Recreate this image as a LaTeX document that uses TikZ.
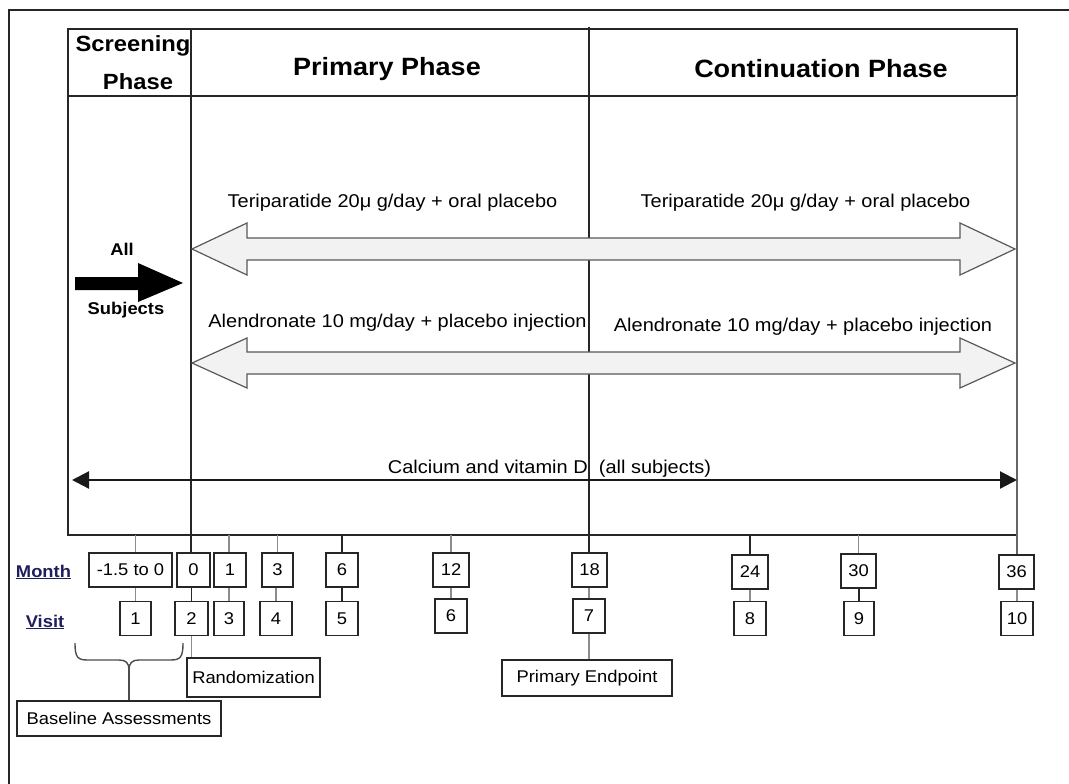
\documentclass[tikz,border=0pt]{standalone}
\usepackage{fontspec}
\setmainfont{Liberation Sans}[FakeStretch=1.08]
\usetikzlibrary{arrows.meta,calc}
\definecolor{navy}{rgb}{0.12,0.12,0.36}
\definecolor{lnk}{gray}{0.15}
\definecolor{lgr}{gray}{0.55}
\tikzset{
  frameline/.style={line width=1.5pt, draw=lnk},
  tbl/.style={line width=1.8pt, draw=lnk},
  hdr/.style={font=\bfseries\fontsize{25}{27}\selectfont, inner sep=0pt},
  hdrs/.style={font=\bfseries\fontsize{22}{24}\selectfont, inner sep=0pt},
  txt/.style={font=\fontsize{18.5}{21}\selectfont, inner sep=0pt},
  btxt/.style={font=\bfseries\fontsize{17}{19}\selectfont, inner sep=0pt},
  nlab/.style={font=\bfseries\fontsize{17}{19}\selectfont, inner sep=0pt, text=navy},
  numbox/.style={draw=lnk, line width=1.8pt, minimum height=34pt, inner sep=0pt, font=\fontsize{17}{19}\selectfont},
  notebox/.style={draw=lnk, line width=1.8pt, inner sep=0pt, font=\fontsize{17}{19}\selectfont},
  hollow/.style={draw=black!65, line width=1.2pt, fill=black!5},
  conn/.style={line width=1.4pt, draw=lnk},
  gconn/.style={line width=1.4pt, draw=lgr},
  bracestyle/.style={draw=black!70, line width=1.4pt},
}
\begin{document}
\begin{tikzpicture}[x=1pt,y=-1pt]
\useasboundingbox (0,0) rectangle (1069,784);

% outer frame
\coordinate (fbl) at (9,784);
\coordinate (ftl) at (9,10);
\coordinate (ftr) at (1069,10);
\draw[frameline] (fbl) -- (ftl) -- (ftr);

% table
\coordinate (ttl) at (68,29);
\coordinate (tbr) at (1017,535);
\coordinate (tb) at (0,535);
\draw[tbl] (ttl) rectangle (tbr);
\coordinate (hl) at (68,96);
\coordinate (hr) at (1017,96);
\draw[tbl] (hl) -- (hr);

% headers
\node[hdrs] (scr1) at (133,46) {Screening};
\node[hdrs] (scr2) at (138,82) {Phase};
\node[hdr] (pp) at (387,69) {Primary Phase};
\node[hdr] (cp) at (821,69) {Continuation Phase};

% month boxes
\node[numbox, minimum width=83pt] (mA) at (130.5,570) {-1.5 to 0};
\node[numbox, minimum width=33pt] (m0) at (193.5,570) {0};
\node[numbox, minimum width=32pt] (m1) at (230,570) {1};
\node[numbox, minimum width=31pt] (m3) at (277.5,570) {3};
\node[numbox, minimum width=32pt] (m6) at (342,570) {6};
\node[numbox, minimum width=36pt] (m12) at (451,570) {12};
\node[numbox, minimum width=35pt] (m18) at (589.5,570) {18};
\node[numbox, minimum width=36pt] (m24) at (750,572) {24};
\node[numbox, minimum width=35pt] (m30) at (858.5,571) {30};
\node[numbox, minimum width=35pt] (m36) at (1016.5,572) {36};

% visit boxes
\node[numbox, minimum width=31pt] (v1) at (135.5,618.5) {1};
\node[numbox, minimum width=33pt] (v2) at (191.5,618.5) {2};
\node[numbox, minimum width=30pt] (v3) at (229,618.5) {3};
\node[numbox, minimum width=32pt] (v4) at (276,618.5) {4};
\node[numbox, minimum width=32pt] (v5) at (342,618.5) {5};
\node[numbox, minimum width=32pt] (v6) at (451,616) {6};
\node[numbox, minimum width=32pt] (v7) at (589,616) {7};
\node[numbox, minimum width=32pt] (v8) at (750,618.5) {8};
\node[numbox, minimum width=30pt] (v9) at (859,618.5) {9};
\node[numbox, minimum width=32pt] (v10) at (1017,618.5) {10};

% phase dividers
\coordinate (d1) at (191,29);
\coordinate (d2) at (589,27);
\coordinate (d3) at (1017,96);
\draw[tbl] (d1) -- (d1 |- m0.north);
\draw[tbl] (d2) -- (d2 |- m18.north);
\draw[tbl, draw=black!60] (d3) -- (d3 |- m36.north);

% ticks from table bottom
\draw[gconn] (v1 |- tb) -- (v1 |- mA.north);
\draw[gconn] (v3 |- tb) -- (v3 |- m1.north);
\draw[gconn] (m3 |- tb) -- (m3.north);
\draw[conn] (m6 |- tb) -- (m6.north);
\draw[gconn] (m12 |- tb) -- (m12.north);
\draw[conn] (v8 |- tb) -- (v8 |- m24.north);
\draw[gconn] (m30 |- tb) -- (m30.north);

% month - visit
\draw[gconn] (v1 |- mA.south) -- (v1.north);
\draw[conn] (v2 |- m0.south) -- (v2.north);
\draw[gconn] (v3 |- m1.south) -- (v3.north);
\draw[gconn] (v4 |- m3.south) -- (v4.north);
\draw[conn] (v5 |- m6.south) -- (v5.north);
\draw[gconn] (v6 |- m12.south) -- (v6.north);
\draw[gconn] (v7 |- m18.south) -- (v7.north);
\draw[gconn] (v8 |- m24.south) -- (v8.north);
\draw[conn] (v9 |- m30.south) -- (v9.north);
\draw[gconn] (v10 |- m36.south) -- (v10.north);

% labels
\node[nlab] (month) at (43.5,572) {\underline{Month}};
\node[nlab] (visit) at (45,622) {\underline{Visit}};

% note boxes
\node[notebox, minimum width=133pt, minimum height=39pt] (rand) at (253.5,677.5) {Randomization};
\node[notebox, minimum width=204pt, minimum height=35pt] (base) at (119,718.5) {Baseline Assessments};
\node[notebox, minimum width=170pt, minimum height=36pt] (pe) at (587,678) {Primary Endpoint};
\draw[gconn] (v2.south) -- (v2.south |- rand.north);
\draw[gconn] (v7.south) -- (v7.south |- pe.north);

% brace
\coordinate (bl) at (75,643);
\coordinate (br) at (183,643);
\coordinate (bt) at (129,670);
\draw[bracestyle] (bl) .. controls (75,658) and (78,660) .. (88,660) -- (119,660)
  .. controls (126,660) and (129,663) .. (bt);
\draw[bracestyle] (br) .. controls (183,658) and (180,660) .. (170,660) -- (139,660)
  .. controls (132,660) and (129,663) .. (bt);
\draw[bracestyle] (bt) -- (bt |- base.north);

% treatment texts
\node[txt] (t1) at (392.5,203) {Teriparatide 20μ g/day + oral placebo};
\node[txt] (t2) at (805.5,203) {Teriparatide 20μ g/day + oral placebo};
\node[txt] (a1) at (397.5,323) {Alendronate 10 mg/day + placebo injection};
\node[txt] (a2) at (803,327) {Alendronate 10 mg/day + placebo injection};

% hollow double arrows
\draw[hollow] (192,249) -- (247,223) -- (247,238) -- (960,238) -- (960,223) -- (1015,249)
  -- (960,275) -- (960,260) -- (247,260) -- (247,275) -- cycle;
\draw[hollow] (192,363) -- (247,338) -- (247,352) -- (960,352) -- (960,338) -- (1015,363)
  -- (960,388) -- (960,374) -- (247,374) -- (247,388) -- cycle;

% all subjects
\node[btxt] (all) at (122,249) {All};
\node[btxt] (subj) at (126,310) {Subjects};
\fill[black] (75,277) -- (138,277) -- (138,263) -- (183,283) -- (138,302) -- (138,290) -- (75,290) -- cycle;

% calcium
\coordinate (cl) at (72,480);
\coordinate (cr) at (1017,480);
\draw[line width=2.2pt, draw=black!90, {Triangle[length=17pt,width=17pt]}-{Triangle[length=17pt,width=17pt]}] (cl) -- (cr);
\node[txt] (calc) at (549.5,469) {Calcium and vitamin D\ \ (all subjects)};

\end{tikzpicture}
\end{document}
